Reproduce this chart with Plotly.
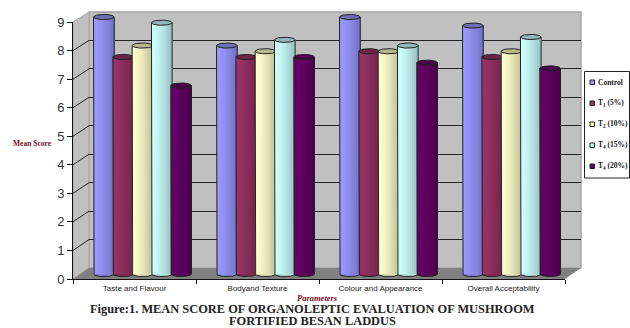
import numpy as np
import plotly.graph_objects as go

W, H = 630, 328

categories = ["Taste and Flavour", "Bodyand Texture", "Colour and Appearance", "Overall Acceptability"]
series_names = ["Control", "T<sub>1</sub> (5%)", "T<sub>2</sub> (10%)", "T<sub>4</sub> (15%)", "T<sub>4</sub> (20%)"]
control = [9.0, 8.0, 9.0, 8.7]
t1_5 = [7.6, 7.6, 7.8, 7.6]
t2_10 = [8.0, 7.8, 7.8, 7.8]
t3_15 = [8.8, 8.2, 8.0, 8.3]
t4_20 = [6.6, 7.6, 7.4, 7.2]
series_values = [control, t1_5, t2_10, t3_15, t4_20]
score_ticks = [0, 1, 2, 3, 4, 5, 6, 7, 8, 9]
colors = ["#9999FF", "#993366", "#FFFFCC", "#CCFFFF", "#660066"]

BAR_W, BAR_PITCH = 0.168, 0.157
SLICES = 10
INK = "#222222"
UNIT_PX = 257 / 9
PAD = 0.5  # value units of headroom kept round the bars so their rounded ends are not clipped


def px(x):
    return x / W


def py(y):
    return 1 - y / H


def x_domain(a, b):
    return [px(a), px(b)]


def y_domain(top, bottom):
    return [py(bottom), py(top)]


def shade(color, k):
    r, g, b = (int(color[i:i + 2], 16) for i in (1, 3, 5))
    return f"rgb({int(r * k)},{int(g * k)},{int(b * k)})"


fig = go.Figure()
layout = dict(
    width=W, height=H, margin=dict(l=0, r=0, t=0, b=0, pad=0, autoexpand=False), autosize=False,
    paper_bgcolor="white", plot_bgcolor="rgba(0,0,0,0)", showlegend=False,
    barmode="overlay", hovermode=False,
)

# Back wall plane: carries the grid only
layout["xaxis"] = dict(domain=x_domain(89, 581), range=[0, 1], visible=False, fixedrange=True, anchor="y")
layout["yaxis"] = dict(domain=y_domain(12, 268), range=[0, 9], tickmode="array", tickvals=score_ticks[1:-1],
                       showgrid=True, gridcolor=INK, gridwidth=1, zeroline=False, showline=False,
                       showticklabels=False, ticks="", anchor="x")
fig.add_trace(go.Scatter(x=[None], y=[None], xaxis="x", yaxis="y"))

# Front plane: the visible value and category axes
layout["xaxis2"] = dict(domain=x_domain(73, 565), range=[-0.5, 3.5], tickmode="array",
                        tickvals=list(range(4)), ticktext=categories, ticks="", ticklen=0,
                        ticklabelstandoff=1,
                        tickfont=dict(family="Liberation Sans", size=8, color="#222"),
                        showline=True, linecolor="#111", linewidth=1, showgrid=False, zeroline=False,
                        minor=dict(ticks="outside", ticklen=4, tickcolor="#111", tickmode="array",
                                   tickvals=[-0.5, 0.5, 1.5, 2.5, 3.5]),
                        anchor="y2")
layout["yaxis2"] = dict(domain=y_domain(22, 279), range=[0, 9], tickmode="array", tickvals=score_ticks,
                        ticks="outside", ticklen=5, tickcolor="#111", showline=True, linecolor="#111",
                        linewidth=1, showgrid=False, zeroline=False,
                        tickfont=dict(family="Liberation Sans", size=13, color="#333"), anchor="x2")
fig.add_trace(go.Scatter(x=[None], y=[None], xaxis="x2", yaxis="y2"))

theta = np.linspace(0, 2 * np.pi, 41)
half_x = BAR_W / 2
half_y = 0.09

# Each series sits on its own axis pair in the middle depth plane, so later bars paint over earlier ones
for i, (values, color) in enumerate(zip(series_values, colors)):
    n = i + 3
    xa, ya = f"x{n}", f"y{n}"
    layout[f"xaxis{n}"] = dict(domain=x_domain(81, 573), range=[-0.5, 3.5], visible=False, anchor=ya)
    layout[f"yaxis{n}"] = dict(domain=y_domain(17 - PAD * UNIT_PX, 274 + PAD * UNIT_PX),
                               range=[-PAD, 9 + PAD], visible=False, anchor=xa)
    center = (i - 2) * BAR_PITCH
    left = center - half_x

    # Cylinder shading: left-to-right slices, each painted through to the right edge
    for s in range(SLICES):
        t = s / (SLICES - 1)
        lo = left + BAR_W * s / SLICES
        fig.add_trace(go.Bar(
            x=list(range(4)), y=values, base=0, offset=lo, width=left + BAR_W - lo,
            marker=dict(color=shade(color, 1 - 0.24 * t ** 1.4), line=dict(width=0)),
            xaxis=xa, yaxis=ya,
        ))

    bottom_x, bottom_y, edge_x, edge_y, top_x, top_y = [], [], [], [], [], []
    arc = np.linspace(np.pi, 2 * np.pi, 21)
    for g, v in enumerate(values):
        cx = g + center
        arc_x = cx + half_x * np.cos(arc)
        arc_y = half_y * np.sin(arc)
        bottom_x += list(arc_x) + [None]
        bottom_y += list(arc_y) + [None]
        edge_x += [cx - half_x] + list(arc_x) + [cx + half_x, None]
        edge_y += [v] + list(arc_y) + [v, None]
        top_x += list(cx + half_x * np.cos(theta)) + [None]
        top_y += list(v + half_y * np.sin(theta)) + [None]

    fig.add_trace(go.Scatter(x=bottom_x, y=bottom_y, mode="lines", fill="toself", fillcolor=shade(color, 0.88),
                             line=dict(width=0), xaxis=xa, yaxis=ya))
    fig.add_trace(go.Scatter(x=edge_x, y=edge_y, mode="lines", line=dict(color=INK, width=1),
                             xaxis=xa, yaxis=ya))
    fig.add_trace(go.Scatter(x=top_x, y=top_y, mode="lines", fill="toself", fillcolor=shade(color, 0.72),
                             line=dict(color=INK, width=1), xaxis=xa, yaxis=ya))

# Chart box: left wall, back wall, floor and the wall grid running to the front axis
GRAY = "#C0C0C0"
EDGE = "#A6A6A6"


def path(points):
    return "M " + " L ".join(f"{px(a):.5f},{py(b):.5f}" for a, b in points) + " Z"


shapes = [
    dict(type="path", path=path([(89, 12), (581, 12), (581, 268), (89, 268)]),
         fillcolor=GRAY, line=dict(color=EDGE, width=1.5)),
    dict(type="path", path=path([(73, 22), (89, 12), (89, 268), (73, 279)]),
         fillcolor=GRAY, line=dict(color=EDGE, width=1)),
    dict(type="path", path=path([(73, 279), (89, 268), (581, 268), (565, 279)]),
         fillcolor="#808080", line=dict(width=0)),
]
for v in score_ticks[1:-1]:
    shapes.append(dict(type="line", x0=px(73), x1=px(89),
                       y0=py(279 - v * 257 / 9), y1=py(268 - v * 256 / 9), line=dict(color=INK, width=1)))
for s in shapes:
    s.update(xref="paper", yref="paper", layer="below")

# Hand-set legend box
LEG_Y = [82, 103, 124, 145, 166]
shapes.append(dict(type="rect", xref="paper", yref="paper", x0=px(584.5), x1=px(629.5), y0=py(71.5), y1=py(178),
                   fillcolor="white", line=dict(color="#222", width=1), layer="above"))
annotations = []
for y, name, color in zip(LEG_Y, series_names, colors):
    shapes.append(dict(type="rect", xref="paper", yref="paper", x0=px(590), x1=px(594.5), y0=py(y - 2), y1=py(y + 2.5),
                       fillcolor=color, line=dict(color="#222", width=1), layer="above"))
    annotations.append(dict(text=name, xref="paper", yref="paper", x=px(597), y=py(y), xanchor="left", yanchor="middle",
                            showarrow=False, align="left", borderpad=0,
                            font=dict(family="Liberation Serif", size=7.5, color="#222", weight="bold")))

for text, x, y, font in [
    ("Mean Score", 32, 144, dict(size=7.5, color="#7a0c1e", weight="bold")),
    ("Parameters", 317, 298, dict(size=8.5, color="#7a0c1e", weight="bold", style="italic")),
    ("Figure:1. MEAN SCORE OF ORGANOLEPTIC EVALUATION OF MUSHROOM", 312, 309, dict(size=12.4, color="#222", weight="bold")),
    ("FORTIFIED BESAN LADDUS", 312.5, 321, dict(size=12.4, color="#222", weight="bold")),
]:
    annotations.append(dict(text=text, xref="paper", yref="paper", x=px(x), y=py(y), xanchor="center",
                            yanchor="middle", showarrow=False, borderpad=0,
                            font=dict(family="Liberation Serif", **font)))

layout["shapes"] = shapes
layout["annotations"] = annotations
fig.update_layout(**layout)
fig.write_html("out.html")
